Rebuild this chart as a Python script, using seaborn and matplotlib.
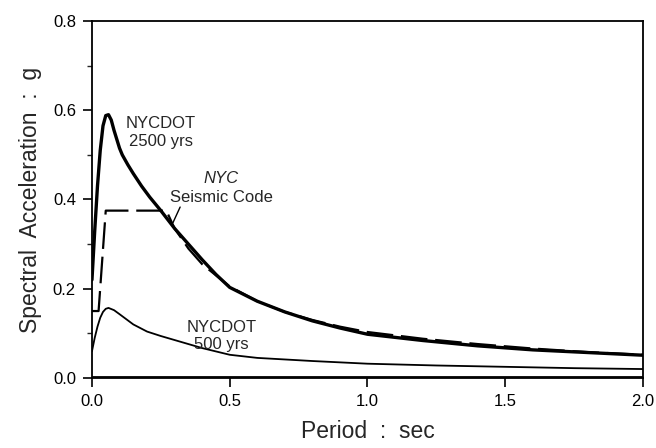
import matplotlib
matplotlib.use("Agg")
import matplotlib.pyplot as plt
import seaborn as sns
import pandas as pd

# NYCDOT 2500 yr spectrum (thick)
t_2500 = [0.0, 0.01, 0.02, 0.03, 0.04, 0.05, 0.06, 0.07, 0.08, 0.10, 0.11, 0.13,
          0.15, 0.18, 0.21, 0.25, 0.30, 0.35, 0.40, 0.45, 0.50, 0.60, 0.70, 0.80,
          0.90, 1.00, 1.20, 1.40, 1.60, 1.80, 2.00]
sa_2500 = [0.22, 0.33, 0.43, 0.51, 0.565, 0.588, 0.59, 0.578, 0.555, 0.515, 0.500, 0.478,
           0.458, 0.430, 0.405, 0.375, 0.335, 0.300, 0.265, 0.232, 0.203, 0.172, 0.148, 0.128,
           0.112, 0.098, 0.084, 0.072, 0.063, 0.057, 0.051]

# NYCDOT 500 yr spectrum (thin)
t_500 = [0.0, 0.01, 0.02, 0.03, 0.04, 0.05, 0.06, 0.08, 0.10, 0.15, 0.20, 0.25,
         0.30, 0.35, 0.40, 0.50, 0.60, 0.80, 1.00, 1.25, 1.50, 1.75, 2.00]
sa_500 = [0.06, 0.09, 0.115, 0.135, 0.148, 0.155, 0.157, 0.152, 0.143, 0.120, 0.104, 0.094,
          0.085, 0.076, 0.067, 0.052, 0.045, 0.038, 0.032, 0.028, 0.025, 0.022, 0.020]

# NYC seismic code (dashed)
t_code = [0.0, 0.024, 0.05, 0.27, 0.30, 0.35, 0.40, 0.50, 0.60, 0.70, 0.80, 0.90,
          1.00, 1.20, 1.40, 1.60, 1.80, 2.00]
sa_code = [0.15, 0.15, 0.375, 0.375, 0.335, 0.290, 0.255, 0.205, 0.172, 0.148, 0.130, 0.115,
           0.103, 0.088, 0.076, 0.066, 0.058, 0.052]

x_ticks = [0.0, 0.5, 1.0, 1.5, 2.0]
y_ticks = [0.0, 0.2, 0.4, 0.6, 0.8]
y_minor = [0.1, 0.3, 0.5, 0.7]

sns.set_style("ticks")
plt.rcParams["font.family"] = ["Liberation Sans", "DejaVu Sans"]

fig = plt.figure(figsize=(6.56, 4.48), dpi=100)
ax = fig.add_axes([0.1402, 0.1563, 0.8399, 0.7969])

df_2500 = pd.DataFrame({"T": t_2500, "Sa": sa_2500})
df_500 = pd.DataFrame({"T": t_500, "Sa": sa_500})
df_code = pd.DataFrame({"T": t_code, "Sa": sa_code})

sns.lineplot(data=df_code, x="T", y="Sa", ax=ax, color="black", lw=1.6,
             linestyle=(0, (12, 3.5)), sort=False)
sns.lineplot(data=df_2500, x="T", y="Sa", ax=ax, color="black", lw=2.4, sort=False)
sns.lineplot(data=df_500, x="T", y="Sa", ax=ax, color="black", lw=1.3, sort=False)
# line along zero
ax.plot([0, 2.0], [0.002, 0.002], color="black", lw=1.3)

ax.set_xlim(0, 2.0)
ax.set_ylim(0, 0.8)
ax.set_xticks(x_ticks)
ax.set_yticks(y_ticks)
ax.set_yticks(y_minor, minor=True)
ax.set_xticklabels([f"{v:.1f}" for v in x_ticks])
ax.set_yticklabels([f"{v:.1f}" for v in y_ticks])
ax.tick_params(axis="both", which="major", direction="out", length=6.5, width=1.2,
               labelsize=12, pad=5, colors="black")
ax.tick_params(axis="y", which="minor", direction="out", length=3.5, width=1.0)
for s in ax.spines.values():
    s.set_linewidth(1.3)
    s.set_color("black")

ax.set_xlabel("Period  :  sec", fontsize=16.5, labelpad=8)
ax.set_ylabel("Spectral  Acceleration  :  g", fontsize=16.5, labelpad=8)

fs = 12
ax.text(0.25, 0.57, "NYCDOT", fontsize=fs, ha="center", va="center")
ax.text(0.25, 0.531, "2500 yrs", fontsize=fs, ha="center", va="center")
ax.text(0.47, 0.446, "NYC", fontsize=fs, ha="center", va="center", style="italic")
ax.text(0.47, 0.405, "Seismic Code", fontsize=fs, ha="center", va="center")
ax.plot([0.32, 0.294], [0.383, 0.348], color="black", lw=1.0)
ax.text(0.47, 0.112, "NYCDOT", fontsize=fs, ha="center", va="center")
ax.text(0.47, 0.076, "500 yrs", fontsize=fs, ha="center", va="center")

fig.savefig("out.png", dpi=100)
